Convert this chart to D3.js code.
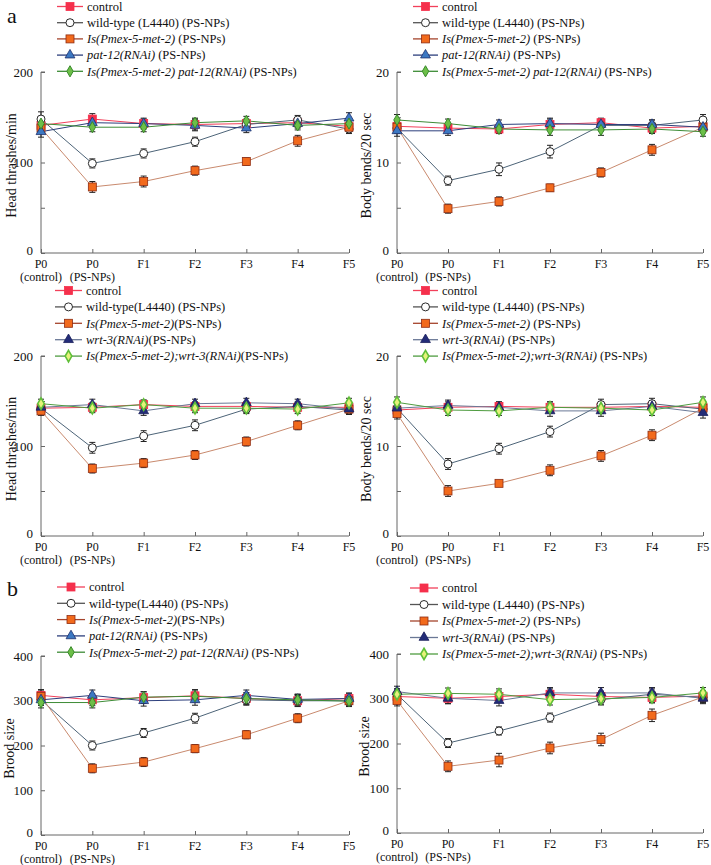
<!DOCTYPE html>
<html>
<head>
<meta charset="utf-8">
<script src="https://cdn.jsdelivr.net/npm/d3@7"></script>
<style>
  html, body { margin: 0; padding: 0; background: #fff; }
  svg { display: block; }
  text { font-family: "Liberation Serif", "Times New Roman", serif; fill: #111; }
</style>
</head>
<body>
<svg id="chart" width="711" height="865"></svg>
<script>
// ---------- categories / ticks ----------
const categories = ["P0|(control)", "P0|(PS-NPs)", "F1", "F2", "F3", "F4", "F5"];
const headTicks = [0, 50, 100, 150, 200];
const headLabels = [0, 100, 200];
const bendTicks = [0, 5, 10, 15, 20];
const bendLabels = [0, 10, 20];
const broodTicks = [0, 100, 200, 300, 400];
const broodLabels = [0, 100, 200, 300, 400];

// ---------- Panel a-1: head thrashes, pat-12 ----------
const a1Control = [141, 148, 143, 142, 143, 144, 140];
const a1ControlErr = [6, 6, 6, 6, 5, 5, 5];
const a1Wild = [148, 99, 110, 123, 142, 147, 137];
const a1WildErr = [8, 5, 5, 5, 5, 5, 5];
const a1Is = [138, 73, 79, 91, 101, 124, 139];
const a1IsErr = [6, 6, 6, 5, 4, 6, 5];
const a1Rnai = [134, 144, 143, 141, 138, 143, 149];
const a1RnaiErr = [6, 5, 5, 6, 5, 5, 6];
const a1Combo = [143, 139, 139, 144, 146, 141, 143];
const a1ComboErr = [6, 5, 5, 5, 5, 5, 5];

// ---------- Panel a-2: body bends, pat-12 ----------
const a2Control = [14.0, 13.8, 13.7, 14.2, 14.4, 13.8, 14.0];
const a2ControlErr = [0.6, 0.5, 0.5, 0.6, 0.5, 0.5, 0.6];
const a2Wild = [13.8, 8.0, 9.25, 11.2, 14.1, 14.1, 14.7];
const a2WildErr = [0.6, 0.5, 0.7, 0.7, 0.6, 0.6, 0.6];
const a2Is = [13.9, 4.9, 5.7, 7.2, 8.9, 11.4, 13.9];
const a2IsErr = [0.5, 0.5, 0.5, 0.4, 0.5, 0.6, 0.6];
const a2Rnai = [13.5, 13.5, 14.2, 14.3, 14.2, 14.2, 13.9];
const a2RnaiErr = [0.6, 0.5, 0.5, 0.6, 0.6, 0.5, 0.6];
const a2Combo = [14.7, 14.3, 13.7, 13.6, 13.6, 13.7, 13.4];
const a2ComboErr = [0.6, 0.5, 0.5, 0.6, 0.6, 0.5, 0.5];

// ---------- Panel a-3: head thrashes, wrt-3 ----------
const a3Control = [142, 143, 146, 144, 144, 143, 143];
const a3ControlErr = [5, 5, 5, 5, 5, 5, 5];
const a3Wild = [142, 98, 111, 123, 141, 144, 140];
const a3WildErr = [6, 6, 6, 6, 5, 5, 5];
const a3Is = [139, 75, 81, 90, 105, 123, 141];
const a3IsErr = [5, 5, 5, 5, 5, 5, 5];
const a3Rnai = [143, 146, 139, 147, 148, 147, 141];
const a3RnaiErr = [5, 6, 5, 5, 5, 5, 5];
const a3Combo = [147, 142, 146, 142, 142, 141, 148];
const a3ComboErr = [5, 5, 5, 5, 5, 5, 5];

// ---------- Panel a-4: body bends, wrt-3 ----------
const a4Control = [14.0, 14.3, 14.4, 14.3, 14.3, 14.4, 14.3];
const a4ControlErr = [0.6, 0.6, 0.5, 0.6, 0.6, 0.6, 0.6];
const a4Wild = [14.2, 8.0, 9.7, 11.6, 14.6, 14.7, 14.1];
const a4WildErr = [0.6, 0.6, 0.6, 0.6, 0.6, 0.6, 0.6];
const a4Is = [13.6, 5.0, 5.85, 7.3, 8.9, 11.2, 14.2];
const a4IsErr = [0.6, 0.6, 0.3, 0.6, 0.6, 0.6, 0.6];
const a4Rnai = [14.2, 14.5, 14.3, 13.9, 13.9, 14.4, 13.7];
const a4RnaiErr = [0.6, 0.6, 0.6, 0.6, 0.6, 0.6, 0.6];
const a4Combo = [14.85, 14.0, 13.9, 14.3, 14.2, 14.0, 14.85];
const a4ComboErr = [0.6, 0.6, 0.5, 0.6, 0.6, 0.6, 0.6];

// ---------- Panel b-1: brood size, pat-12 ----------
const b1Control = [312, 302, 307, 311, 305, 300, 305];
const b1ControlErr = [13, 13, 13, 14, 13, 13, 12];
const b1Wild = [302, 200, 228, 261, 302, 300, 300];
const b1WildErr = [12, 10, 10, 11, 12, 12, 12];
const b1Is = [310, 149, 163, 193, 224, 261, 300];
const b1IsErr = [12, 10, 10, 9, 9, 10, 10];
const b1Rnai = [302, 312, 300, 302, 312, 303, 305];
const b1RnaiErr = [12, 12, 12, 12, 12, 12, 12];
const b1Combo = [296, 296, 308, 310, 305, 302, 299];
const b1ComboErr = [12, 12, 12, 12, 12, 12, 12];

// ---------- Panel b-2: brood size, wrt-3 ----------
const b2Control = [305, 301, 305, 310, 305, 303, 306];
const b2ControlErr = [12, 12, 12, 12, 12, 12, 12];
const b2Wild = [310, 201, 228, 258, 298, 310, 303];
const b2WildErr = [12, 10, 9, 10, 12, 12, 12];
const b2Is = [296, 149, 163, 190, 209, 263, 304];
const b2IsErr = [12, 12, 15, 13, 14, 14, 12];
const b2Rnai = [316, 301, 296, 313, 313, 313, 301];
const b2RnaiErr = [12, 12, 12, 12, 12, 12, 12];
const b2Combo = [310, 312, 310, 298, 300, 303, 313];
const b2ComboErr = [12, 12, 12, 12, 12, 12, 12];

// ---------- styles (not data) ----------
const ST = {
  control: {shape: "square", fill: "#f5304c", stroke: "#f5304c", line: "#f2405a", lline: "#f2405a", size: 8},
  wild:    {shape: "circle", fill: "#ffffff", stroke: "#2a2a2a", line: "#4d6478", lline: "#555555", size: 8},
  is:      {shape: "square", fill: "#f26a1c", stroke: "#8e2c12", line: "#c98a6e", lline: "#a5442c", size: 8},
  pat:     {shape: "triangle", fill: "#3c78c2", stroke: "#1d2f6c", line: "#2d3f7c", lline: "#2d3f7c", size: 9},
  wrt:     {shape: "triangle", fill: "#232c78", stroke: "#1a205c", line: "#6a7896", lline: "#6a7896", size: 9},
  comboP:  {shape: "diamond", fill: "#6cbf48", stroke: "#3a8a2c", line: "#3d8c36", lline: "#3d8c36", size: 8},
  comboW:  {shape: "diamondW", fill: "#e6f27a", stroke: "#5fbf38", line: "#4f9c40", lline: "#4f9c40", size: 8}
};

function legendItems(variant) {
  if (variant === "pat") return [
    {st: "control", parts: [["control", false]]},
    {st: "wild", parts: [["wild-type (L4440) (PS-NPs)", false]]},
    {st: "is", parts: [["Is(Pmex-5-met-2)", true], [" (PS-NPs)", false]]},
    {st: "pat", parts: [["pat-12(RNAi)", true], [" (PS-NPs)", false]]},
    {st: "comboP", parts: [["Is(Pmex-5-met-2) pat-12(RNAi)", true], [" (PS-NPs)", false]]}
  ];
  if (variant === "pat2") return [
    {st: "control", parts: [["control", false]]},
    {st: "wild", parts: [["wild-type(L4440) (PS-NPs)", false]]},
    {st: "is", parts: [["Is(Pmex-5-met-2)", true], ["(PS-NPs)", false]]},
    {st: "pat", parts: [["pat-12(RNAi)", true], [" (PS-NPs)", false]]},
    {st: "comboP", parts: [["Is(Pmex-5-met-2) pat-12(RNAi)", true], [" (PS-NPs)", false]]}
  ];
  if (variant === "wrt2") return [
    {st: "control", parts: [["control", false]]},
    {st: "wild", parts: [["wild-type(L4440) (PS-NPs)", false]]},
    {st: "is", parts: [["Is(Pmex-5-met-2)", true], ["(PS-NPs)", false]]},
    {st: "wrt", parts: [["wrt-3(RNAi)", true], ["(PS-NPs)", false]]},
    {st: "comboW", parts: [["Is(Pmex-5-met-2);wrt-3(RNAi)", true], ["(PS-NPs)", false]]}
  ];
  return [
    {st: "control", parts: [["control", false]]},
    {st: "wild", parts: [["wild-type (L4440) (PS-NPs)", false]]},
    {st: "is", parts: [["Is(Pmex-5-met-2)", true], [" (PS-NPs)", false]]},
    {st: "wrt", parts: [["wrt-3(RNAi)", true], [" (PS-NPs)", false]]},
    {st: "comboW", parts: [["Is(Pmex-5-met-2);wrt-3(RNAi)", true], [" (PS-NPs)", false]]}
  ];
}

const panels = [
  {x0: 41, x1: 349, yTop: 72, yBot: 253, dom: [0, 200], ticks: headTicks, labels: headLabels,
   title: "Head thrashes/min", tx: 11, legend: legendItems("pat"), lx0: 57, lx1: 83, ly0: 6.5, ldy: 16.2,
   series: [["control", a1Control, a1ControlErr], ["wild", a1Wild, a1WildErr], ["is", a1Is, a1IsErr], ["pat", a1Rnai, a1RnaiErr], ["comboP", a1Combo, a1ComboErr]]},
  {x0: 397, x1: 703, yTop: 72, yBot: 253, dom: [0, 20], ticks: bendTicks, labels: bendLabels,
   title: "Body bends/20 sec", tx: 366, legend: legendItems("pat"), lx0: 413, lx1: 438, ly0: 6.5, ldy: 16.2,
   series: [["control", a2Control, a2ControlErr], ["wild", a2Wild, a2WildErr], ["is", a2Is, a2IsErr], ["pat", a2Rnai, a2RnaiErr], ["comboP", a2Combo, a2ComboErr]]},
  {x0: 41, x1: 349, yTop: 356, yBot: 536, dom: [0, 200], ticks: headTicks, labels: headLabels,
   title: "Head thrashes/min", tx: 11, legend: legendItems("wrt2"), lx0: 55, lx1: 82, ly0: 290.5, ldy: 16.4,
   series: [["control", a3Control, a3ControlErr], ["wild", a3Wild, a3WildErr], ["is", a3Is, a3IsErr], ["wrt", a3Rnai, a3RnaiErr], ["comboW", a3Combo, a3ComboErr]]},
  {x0: 397, x1: 703, yTop: 356, yBot: 536, dom: [0, 20], ticks: bendTicks, labels: bendLabels,
   title: "Body bends/20 sec", tx: 366, legend: legendItems("wrt"), lx0: 413, lx1: 438, ly0: 290.5, ldy: 16.4,
   series: [["control", a4Control, a4ControlErr], ["wild", a4Wild, a4WildErr], ["is", a4Is, a4IsErr], ["wrt", a4Rnai, a4RnaiErr], ["comboW", a4Combo, a4ComboErr]]},
  {x0: 41, x1: 349, yTop: 656, yBot: 835, dom: [0, 400], ticks: broodTicks, labels: broodLabels,
   title: "Brood size", tx: 9, legend: legendItems("pat2"), lx0: 57, lx1: 85, ly0: 587, ldy: 16.3,
   series: [["control", b1Control, b1ControlErr], ["wild", b1Wild, b1WildErr], ["is", b1Is, b1IsErr], ["pat", b1Rnai, b1RnaiErr], ["comboP", b1Combo, b1ComboErr]]},
  {x0: 397, x1: 703, yTop: 654, yBot: 833, dom: [0, 400], ticks: broodTicks, labels: broodLabels,
   title: "Brood size", tx: 364, legend: legendItems("wrt"), lx0: 410, lx1: 438, ly0: 588, ldy: 16.5,
   series: [["control", b2Control, b2ControlErr], ["wild", b2Wild, b2WildErr], ["is", b2Is, b2IsErr], ["wrt", b2Rnai, b2RnaiErr], ["comboW", b2Combo, b2ComboErr]]}
];

const svg = d3.select("#chart");

function drawMarker(g, st, x, y) {
  const s = ST[st];
  if (s.shape === "square") {
    g.append("rect").attr("x", x - s.size / 2).attr("y", y - s.size / 2)
      .attr("width", s.size).attr("height", s.size)
      .attr("fill", s.fill).attr("stroke", s.stroke).attr("stroke-width", 0.8);
  } else if (s.shape === "circle") {
    g.append("circle").attr("cx", x).attr("cy", y).attr("r", s.size / 2)
      .attr("fill", s.fill).attr("stroke", s.stroke).attr("stroke-width", 1);
  } else if (s.shape === "triangle") {
    g.append("path").attr("d", d3.symbol(d3.symbolTriangle, 42)())
      .attr("transform", `translate(${x},${y})`)
      .attr("fill", s.fill).attr("stroke", s.stroke).attr("stroke-width", 0.8);
  } else if (s.shape === "diamond") {
    g.append("path").attr("d", d3.symbol(d3.symbolDiamond, 36)())
      .attr("transform", `translate(${x},${y})`)
      .attr("fill", s.fill).attr("stroke", s.stroke).attr("stroke-width", 1);
  } else {
    g.append("path").attr("d", d3.symbol(d3.symbolDiamond, 38)())
      .attr("transform", `translate(${x},${y})`)
      .attr("fill", s.fill).attr("stroke", s.stroke).attr("stroke-width", 1.6);
  }
}

panels.forEach(p => {
  const g = svg.append("g");
  const x = d3.scalePoint().domain(categories).range([p.x0, p.x1]).padding(0);
  const y = d3.scaleLinear().domain(p.dom).range([p.yBot, p.yTop]);

  // y axis
  const ya = g.append("g").attr("transform", `translate(${p.x0},0)`)
    .call(d3.axisLeft(y).tickValues(p.ticks).tickSize(-4).tickPadding(8)
      .tickFormat(d => p.labels.includes(d) ? d : ""));
  ya.select(".domain").attr("stroke", "#666").attr("d", `M-0,${p.yTop}H4M0,${p.yTop}V${p.yBot}`);
  ya.selectAll(".tick line").attr("stroke", "#666");
  ya.selectAll(".tick text").attr("font-size", 13).attr("font-family", "Liberation Serif").attr("fill", "#111")
    .attr("dy", d => d === 0 ? "0.1em" : "0.32em");

  // x axis
  const xa = g.append("g").attr("transform", `translate(0,${p.yBot})`)
    .call(d3.axisBottom(x).tickSize(-4).tickFormat(""));
  xa.select(".domain").attr("stroke", "#666").attr("d", `M${p.x0},0H${p.x1}`);
  xa.selectAll(".tick line").attr("stroke", "#666");
  categories.forEach(c => {
    const lines = c.split("|");
    lines.forEach((ln, i) => {
      g.append("text").attr("x", x(c)).attr("y", p.yBot + 14.9 + i * 13.1)
        .attr("text-anchor", "middle").attr("font-size", 12).text(ln);
    });
  });

  // axis title
  g.append("text").attr("transform", `translate(${p.tx},${(p.yTop + p.yBot) / 2 + 3}) rotate(-90)`)
    .attr("text-anchor", "middle").attr("dy", "0.35em").attr("font-size", 14).text(p.title);

  // series
  const line = d3.line().x((d, i) => x(categories[i])).y(d => y(d));
  p.series.forEach(([st, vals]) => {
    g.append("path").attr("d", line(vals)).attr("fill", "none")
      .attr("stroke", ST[st].line).attr("stroke-width", 1);
  });
  p.series.forEach(([st, vals, errs]) => {
    vals.forEach((v, i) => {
      const cx = x(categories[i]);
      g.append("path")
        .attr("d", `M${cx},${y(v - errs[i])}V${y(v + errs[i])}M${cx - 3},${y(v - errs[i])}H${cx + 3}M${cx - 3},${y(v + errs[i])}H${cx + 3}`)
        .attr("stroke", "#222").attr("stroke-width", 1).attr("fill", "none");
    });
  });
  p.series.forEach(([st, vals]) => {
    vals.forEach((v, i) => drawMarker(g, st, x(categories[i]), y(v)));
  });

  // legend
  p.legend.forEach((it, i) => {
    const ly = p.ly0 + i * p.ldy;
    g.append("line").attr("x1", p.lx0).attr("x2", p.lx1).attr("y1", ly).attr("y2", ly)
      .attr("stroke", ST[it.st].lline).attr("stroke-width", 1.3);
    drawMarker(g, it.st, (p.lx0 + p.lx1) / 2, ly);
    const t = g.append("text").attr("x", p.lx1 + 4).attr("y", ly).attr("dy", "0.35em").attr("font-size", 12.5);
    it.parts.forEach(([txt, ital]) => {
      t.append("tspan").attr("font-style", ital ? "italic" : "normal").text(txt);
    });
  });
});

// panel letters
svg.append("text").attr("x", 7).attr("y", 23).attr("font-size", 22).text("a");
svg.append("text").attr("x", 7).attr("y", 596).attr("font-size", 22).text("b");
</script>
</body>
</html>
